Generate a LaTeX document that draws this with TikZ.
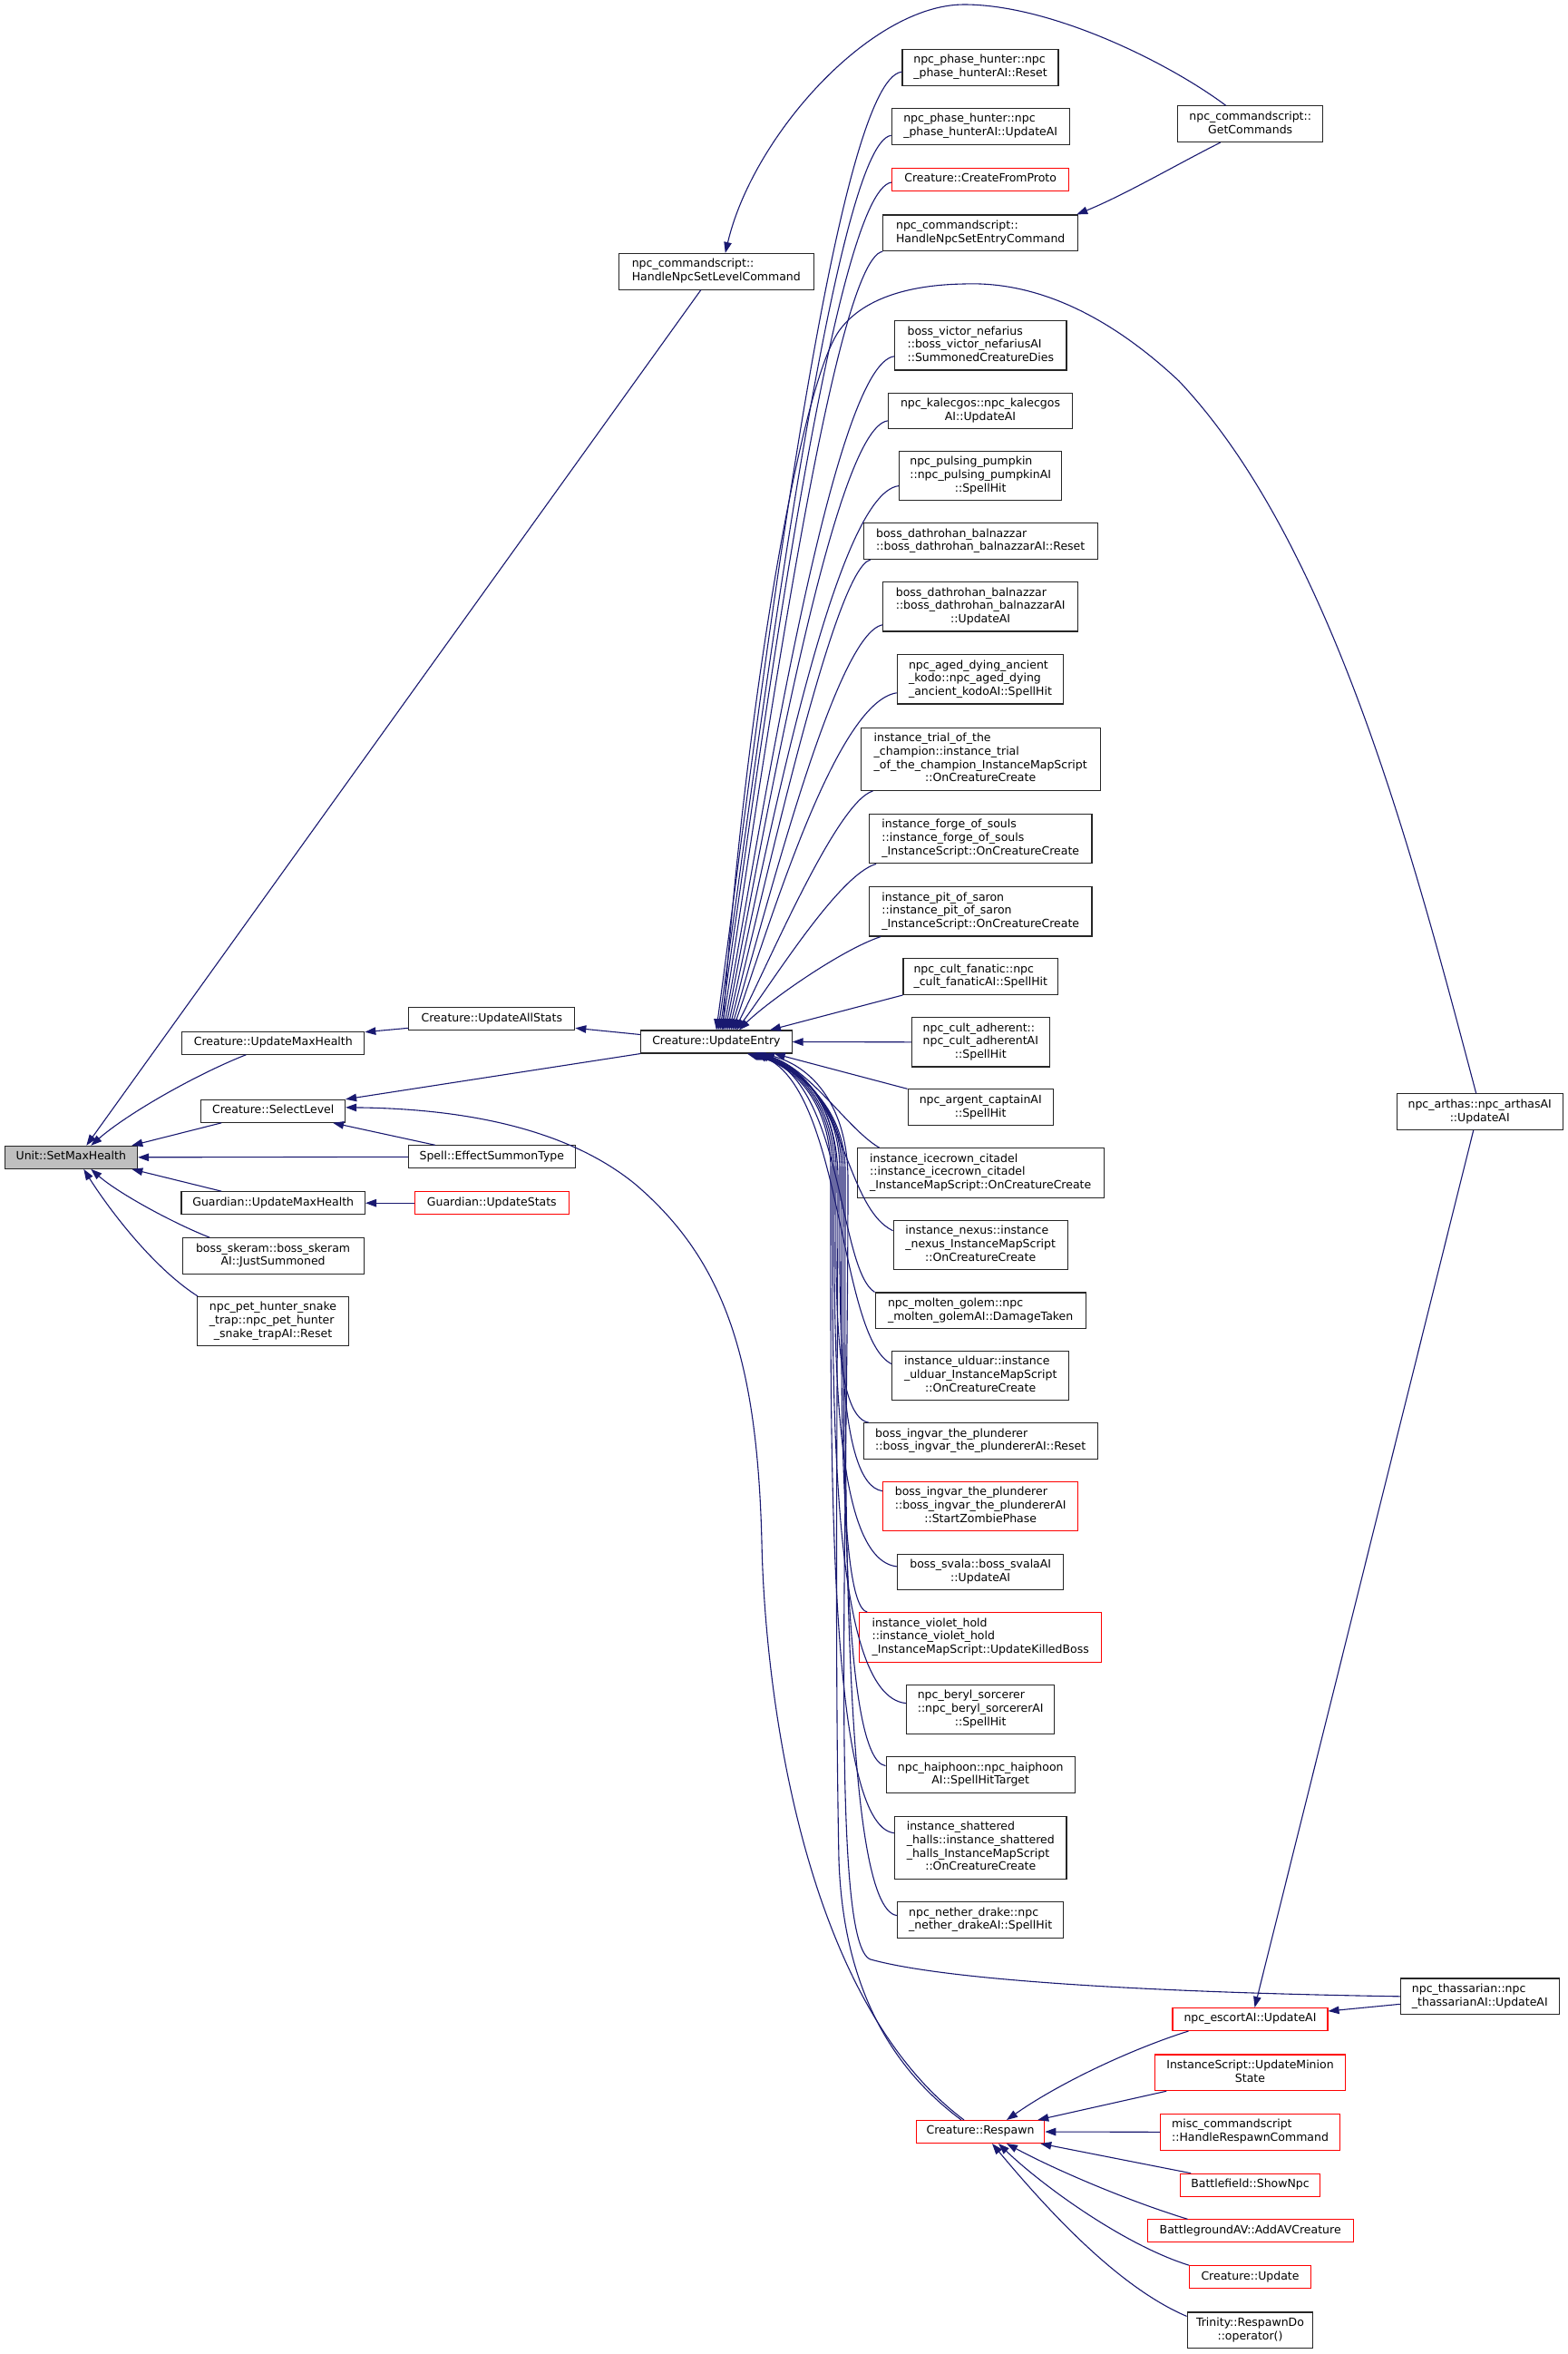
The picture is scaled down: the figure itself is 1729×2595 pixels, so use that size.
\documentclass[tikz,border=0pt]{standalone}
\usepackage{fontspec}
\setmainfont{DejaVu Sans}
\usetikzlibrary{arrows.meta}
\definecolor{edgeblue}{HTML}{191970}
\definecolor{rootgray}{HTML}{BFBFBF}
\newcommand{\nodefont}{\fontsize{12.5pt}{14.75pt}\selectfont}
\newcommand{\ml}[2]{\begin{tabular}{@{}l@{}}#1\\\multicolumn{1}{@{}c@{}}{#2}\end{tabular}}
\tikzset{
  fbox/.style={draw=black!85, line width=1.1pt, font=\nodefont, inner xsep=3pt, inner ysep=5.1pt},
  fone/.style={fbox, text height=10.3pt, text depth=4.45pt},
  hot/.style={draw=red},
  call/.style={draw=edgeblue, line width=1.1pt, -{Triangle[length=12pt,width=8.5pt]}},
}
\begin{document}
\begin{tikzpicture}[x=1pt,y=-1pt]
  \useasboundingbox (0,0) rectangle (1729,2595);
  \node[fone,fill=rootgray,minimum width=146.5pt] (smh) at (78.3,1275.8) {Unit::SetMaxHealth};
  \node[fone,minimum width=201pt] (cumh) at (301.3,1149.7) {Creature::UpdateMaxHealth};
  \node[fone,minimum width=183pt] (uas) at (542.3,1123.3) {Creature::UpdateAllStats};
  \node[fone,minimum width=158.7pt] (sl) at (301.2,1224.8) {Creature::SelectLevel};
  \node[fone,minimum width=184pt] (est) at (542.3,1275.3) {Spell::EffectSummonType};
  \node[fone,minimum width=202.5pt] (gumh) at (301.2,1326.2) {Guardian::UpdateMaxHealth};
  \node[fone,hot,minimum width=169.6pt] (gus) at (542.3,1326.2) {Guardian::UpdateStats};
  \node[fbox,minimum width=200pt] (skeram) at (301.1,1384.5) {\ml{boss\_skeram::boss\_skeram}{AI::JustSummoned}};
  \node[fbox,minimum width=166.7pt] (pet) at (301,1456.7) {\ml{npc\_pet\_hunter\_snake\\\_trap::npc\_pet\_hunter}{\_snake\_trapAI::Reset}};
  \node[fbox,minimum width=215pt] (hnsl) at (789.8,299.3) {\ml{npc\_commandscript::}{HandleNpcSetLevelCommand}};
  \node[fone,minimum width=166.5pt] (ue) at (789.9,1148.5) {Creature::UpdateEntry};
  \node[fbox,minimum width=160pt] (gc) at (1378.7,136.7) {\ml{npc\_commandscript::}{GetCommands}};
  \node[fbox,minimum width=172pt] (ph1) at (1081,74.2) {\ml{npc\_phase\_hunter::npc}{\_phase\_hunterAI::Reset}};
  \node[fbox,minimum width=196pt] (ph2) at (1081.2,139.3) {\ml{npc\_phase\_hunter::npc}{\_phase\_hunterAI::UpdateAI}};
  \node[fone,hot,minimum width=195pt] (cfp) at (1081.2,198) {Creature::CreateFromProto};
  \node[fbox,minimum width=215pt] (hnse) at (1081.2,256.8) {\ml{npc\_commandscript::}{HandleNpcSetEntryCommand}};
  \node[fbox,minimum width=189.3pt] (vic) at (1081.3,380.8) {\ml{boss\_victor\_nefarius\\::boss\_victor\_nefariusAI}{::SummonedCreatureDies}};
  \node[fbox,minimum width=203.3pt] (kal) at (1081,452.9) {\ml{npc\_kalecgos::npc\_kalecgos}{AI::UpdateAI}};
  \node[fbox,minimum width=179pt] (pump) at (1081.2,524.6) {\ml{npc\_pulsing\_pumpkin\\::npc\_pulsing\_pumpkinAI}{::SpellHit}};
  \node[fbox,minimum width=257.7pt] (dat1) at (1081.2,596.6) {\ml{boss\_dathrohan\_balnazzar}{::boss\_dathrohan\_balnazzarAI::Reset}};
  \node[fbox,minimum width=215pt] (dat2) at (1081.2,668.8) {\ml{boss\_dathrohan\_balnazzar\\::boss\_dathrohan\_balnazzarAI}{::UpdateAI}};
  \node[fbox,minimum width=183.3pt] (kodo) at (1081,748.8) {\ml{npc\_aged\_dying\_ancient\\\_kodo::npc\_aged\_dying}{\_ancient\_kodoAI::SpellHit}};
  \node[fbox,minimum width=264.3pt] (trial) at (1081.2,836.8) {\ml{instance\_trial\_of\_the\\\_champion::instance\_trial\\\_of\_the\_champion\_InstanceMapScript}{::OnCreatureCreate}};
  \node[fbox,minimum width=245.3pt] (forge) at (1081.3,924.6) {\ml{instance\_forge\_of\_souls\\::instance\_forge\_of\_souls}{\_InstanceScript::OnCreatureCreate}};
  \node[fbox,minimum width=245.3pt] (pit) at (1081.3,1004.8) {\ml{instance\_pit\_of\_saron\\::instance\_pit\_of\_saron}{\_InstanceScript::OnCreatureCreate}};
  \node[fbox,minimum width=170.7pt] (fan) at (1081.3,1076.6) {\ml{npc\_cult\_fanatic::npc}{\_cult\_fanaticAI::SpellHit}};
  \node[fbox,minimum width=152pt] (adh) at (1081.3,1148.8) {\ml{npc\_cult\_adherent::\\npc\_cult\_adherentAI}{::SpellHit}};
  \node[fbox,minimum width=160.3pt] (arg) at (1081.2,1220.7) {\ml{npc\_argent\_captainAI}{::SpellHit}};
  \node[fbox,minimum width=272.3pt] (ice) at (1081.2,1292.9) {\ml{instance\_icecrown\_citadel\\::instance\_icecrown\_citadel}{\_InstanceMapScript::OnCreatureCreate}};
  \node[fbox,minimum width=192.3pt] (nex) at (1081.2,1372.7) {\ml{instance\_nexus::instance\\\_nexus\_InstanceMapScript}{::OnCreatureCreate}};
  \node[fbox,minimum width=232.3pt] (mol) at (1081.2,1444.8) {\ml{npc\_molten\_golem::npc}{\_molten\_golemAI::DamageTaken}};
  \node[fbox,minimum width=195pt] (uld) at (1081.2,1516.6) {\ml{instance\_ulduar::instance\\\_ulduar\_InstanceMapScript}{::OnCreatureCreate}};
  \node[fbox,minimum width=257.7pt] (ing1) at (1081.2,1588.6) {\ml{boss\_ingvar\_the\_plunderer}{::boss\_ingvar\_the\_plundererAI::Reset}};
  \node[fbox,hot,minimum width=215pt] (ing2) at (1081.2,1660.7) {\ml{boss\_ingvar\_the\_plunderer\\::boss\_ingvar\_the\_plundererAI}{::StartZombiePhase}};
  \node[fbox,minimum width=183pt] (sva) at (1081.2,1732.9) {\ml{boss\_svala::boss\_svalaAI}{::UpdateAI}};
  \node[fbox,hot,minimum width=267pt] (vio) at (1081.2,1804.8) {\ml{instance\_violet\_hold\\::instance\_violet\_hold}{\_InstanceMapScript::UpdateKilledBoss}};
  \node[fbox,minimum width=163pt] (ber) at (1081.2,1884.6) {\ml{npc\_beryl\_sorcerer\\::npc\_beryl\_sorcererAI}{::SpellHit}};
  \node[fbox,minimum width=208.3pt] (hai) at (1081.2,1956.6) {\ml{npc\_haiphoon::npc\_haiphoon}{AI::SpellHitTarget}};
  \node[fbox,minimum width=189.3pt] (sha) at (1081.3,2036.7) {\ml{instance\_shattered\\\_halls::instance\_shattered\\\_halls\_InstanceMapScript}{::OnCreatureCreate}};
  \node[fbox,minimum width=183pt] (net) at (1081.2,2116.6) {\ml{npc\_nether\_drake::npc}{\_nether\_drakeAI::SpellHit}};
  \node[fone,hot,minimum width=141.4pt] (resp) at (1081,2350) {Creature::Respawn};
  \node[fbox,minimum width=183.3pt] (art) at (1631.7,1225.7) {\ml{npc\_arthas::npc\_arthasAI}{::UpdateAI}};
  \node[fbox,minimum width=175pt] (tha) at (1631.8,2200.8) {\ml{npc\_thassarian::npc}{\_thassarianAI::UpdateAI}};
  \node[fone,hot,minimum width=171pt] (esc) at (1378.5,2226) {npc\_escortAI::UpdateAI};
  \node[fbox,hot,minimum width=209.6pt] (ism) at (1378.5,2284.8) {\ml{InstanceScript::UpdateMinion}{State}};
  \node[fbox,hot,minimum width=197.6pt] (misc) at (1378.5,2350.3) {\ml{misc\_commandscript}{::HandleRespawnCommand}};
  \node[fone,hot,minimum width=153.6pt] (bf) at (1378.5,2408.7) {Battlefield::ShowNpc};
  \node[fone,hot,minimum width=227.3pt] (bav) at (1378.7,2459.3) {BattlegroundAV::AddAVCreature};
  \node[fone,hot,minimum width=133.6pt] (cup) at (1378.5,2510.2) {Creature::Update};
  \node[fbox,minimum width=138.7pt] (tri) at (1378.5,2568.8) {\ml{Trinity::RespawnDo}{::operator()}};

  \draw[call] ([xshift=-17pt]hnsl.south) -- ([xshift=17pt]smh.north);
  \draw[call] ([xshift=-30pt]cumh.south) .. controls (215,1185) and (140,1228) .. ([xshift=22pt]smh.north);
  \draw[call] ([xshift=-57pt]sl.south) -- ([xshift=67pt]smh.north);
  \draw[call] (est.west) -- (smh.east);
  \draw[call] ([xshift=-57pt]gumh.north) -- ([xshift=67pt]smh.south);
  \draw[call] ([xshift=-70pt]skeram.north) .. controls (190,1348) and (130,1315) .. ([xshift=22pt]smh.south);
  \draw[call] ([xshift=1pt]pet.north west) .. controls (165,1395) and (115,1325) .. ([xshift=14pt]smh.south);
  \draw[call] ([yshift=-10pt]uas.west) -- ([yshift=12pt]cumh.east);
  \draw[call] ([yshift=8pt]ue.west) -- ([yshift=-10pt]uas.east);
  \draw[call] (ue.south west) -- (sl.north east);
  \draw[call] ([xshift=30pt]est.north west) -- ([xshift=-14pt]sl.south east);
  \draw[call] (gus.west) -- (gumh.east);
  \draw[call] ([xshift=-18pt]resp.north) .. controls (880,2200) and (843,1850) .. (840,1700) .. controls (835,1500) and (800,1390) .. (700,1305) .. controls (620,1240) and (500,1222) .. ([yshift=4pt]sl.east);

  \draw[call] ([xshift=-27pt]gc.north) .. controls (1290,70) and (1160,5) .. (1063,5) .. controls (960,5) and (830,150) .. ([xshift=10pt]hnsl.north);
  \draw[call] ([xshift=-33pt]gc.south) .. controls (1300,180) and (1240,215) .. ([xshift=-2pt]hnse.north east);

  \draw[call] ([yshift=-5pt]ph1.west) .. controls +(-75,8) and +(45,-336) .. (ue.north);
  \draw[call] ([yshift=-10pt]ph2.west) .. controls +(-63,8) and +(44,-313) .. ([xshift=2pt]ue.north);
  \draw[call] ([yshift=-3pt]cfp.west) .. controls +(-64,8) and +(43,-295) .. ([xshift=4pt]ue.north);
  \draw[call] (hnse.south west) .. controls +(-55,10) and +(43,-270) .. ([xshift=6pt]ue.north);
  \draw[call] ([yshift=-12pt]vic.west) .. controls +(-67,8) and +(42,-232) .. ([xshift=8pt]ue.north);
  \draw[call] ([yshift=-11pt]kal.west) .. controls +(-60,8) and +(41,-209) .. ([xshift=10pt]ue.north);
  \draw[call] ([yshift=-11pt]pump.west) .. controls +(-72,8) and +(41,-185) .. ([xshift=12pt]ue.north);
  \draw[call] ([xshift=8pt]dat1.south west) .. controls +(-40,10) and +(40,-158) .. ([xshift=14pt]ue.north);
  \draw[call] ([yshift=-20pt]dat2.west) .. controls +(-52,10) and +(40,-134) .. ([xshift=16pt]ue.north);
  \draw[call] ([yshift=-15pt]kodo.west) .. controls +(-68,10) and +(39,-110) .. ([xshift=18pt]ue.north);
  \draw[call] ([xshift=14pt]trial.south west) .. controls +(-40,12) and +(38,-74) .. ([xshift=20pt]ue.north);
  \draw[call] ([xshift=8pt]forge.south west) .. controls +(-42,12) and +(37,-48) .. ([xshift=22pt]ue.north);
  \draw[call] ([xshift=13pt]pit.south west) .. controls +(-45,15) and +(30,-30) .. ([xshift=25pt]ue.north);
  \draw[call] (fan.south west) -- ([xshift=59pt]ue.north);
  \draw[call] ([xshift=-4pt]art.north) .. controls (1560,950) and (1470,600) .. (1300,420) .. controls (1220,345) and (1140,310) .. (1063,313) .. controls (1000,314) and (950,330) .. (925,365) .. controls (880,430) and (820,800) .. ([xshift=7pt]ue.north);

  \draw[call] (adh.west) -- (ue.east);
  \draw[call] (arg.north west) -- ([xshift=-20pt]ue.south east);
  \draw[call] ([xshift=25pt]ice.north west) .. controls (935,1245) and (895,1180) .. ([xshift=50pt]ue.south);
  \draw[call] ([yshift=16pt]nex.west) .. controls (930,1330) and (932,1192) .. ([xshift=48pt]ue.south);
  \draw[call] (mol.north west) .. controls (925,1400) and (930,1200) .. ([xshift=46pt]ue.south);
  \draw[call] ([yshift=13pt]uld.west) .. controls (925,1475) and (930,1205) .. ([xshift=44pt]ue.south);
  \draw[call] ([xshift=6pt]ing1.north west) .. controls (917,1561) and (922,1401) .. (922,1290) .. controls (922,1220) and (887,1176) .. ([xshift=42pt]ue.south);
  \draw[call] ([yshift=17pt]ing2.west) .. controls (921,1636) and (926,1432) .. (926,1290) .. controls (926,1220) and (885,1176) .. ([xshift=40pt]ue.south);
  \draw[call] ([yshift=6pt]sva.west) .. controls (915,1719) and (920,1465) .. (920,1290) .. controls (920,1220) and (884,1176) .. ([xshift=39pt]ue.south);
  \draw[call] ([xshift=9pt]vio.north west) .. controls (923,1770) and (928,1485) .. (928,1290) .. controls (928,1220) and (883,1176) .. ([xshift=38pt]ue.south);
  \draw[call] ([yshift=7pt]ber.west) .. controls (913,1870) and (918,1525) .. (918,1290) .. controls (918,1220) and (882,1176) .. ([xshift=37pt]ue.south);
  \draw[call] ([yshift=10pt]hai.west) .. controls (925,1939) and (930,1553) .. (930,1290) .. controls (930,1220) and (881,1176) .. ([xshift=36pt]ue.south);
  \draw[call] ([yshift=16pt]sha.west) .. controls (911,2013) and (916,1582) .. (916,1290) .. controls (916,1220) and (880,1176) .. ([xshift=35pt]ue.south);
  \draw[call] ([yshift=5pt]net.west) .. controls (927,2104) and (932,1619) .. (932,1290) .. controls (932,1220) and (879,1176) .. ([xshift=34pt]ue.south);
  \draw[call] (tha.west) .. controls (1300,2197) and (1050,2185) .. (960,2160) .. controls (915,2145) and (935,1700) .. (935,1300) .. controls (935,1220) and (896,1176) .. ([xshift=52pt]ue.south);
  \draw[call] ([xshift=-21pt]resp.north) .. controls (990,2285) and (930,2200) .. (925,2050) .. controls (920,1800) and (924,1450) .. (924,1300) .. controls (924,1220) and (886,1176) .. ([xshift=42pt]ue.south);

  \draw[call] ([yshift=-8.5pt]tha.west) -- ([yshift=9pt]esc.east);
  \draw[call] ([xshift=-7pt]art.south) -- ([xshift=5pt]esc.north);
  \draw[call] ([xshift=-68pt]esc.south) .. controls (1250,2258) and (1170,2295) .. ([xshift=29pt]resp.north);
  \draw[call] ([xshift=13pt]ism.south west) -- ([xshift=-8pt]resp.north east);
  \draw[call] (misc.west) -- (resp.east);
  \draw[call] ([xshift=12pt]bf.north west) -- ([xshift=-5pt]resp.south east);
  \draw[call] ([xshift=45pt]bav.north west) .. controls (1240,2425) and (1160,2390) .. ([xshift=29pt]resp.south);
  \draw[call] (cup.north west) .. controls (1240,2475) and (1150,2410) .. ([xshift=20pt]resp.south);
  \draw[call] ([yshift=-5pt]tri.north west) .. controls (1230,2520) and (1150,2430) .. ([xshift=13pt]resp.south);
\end{tikzpicture}
\end{document}
